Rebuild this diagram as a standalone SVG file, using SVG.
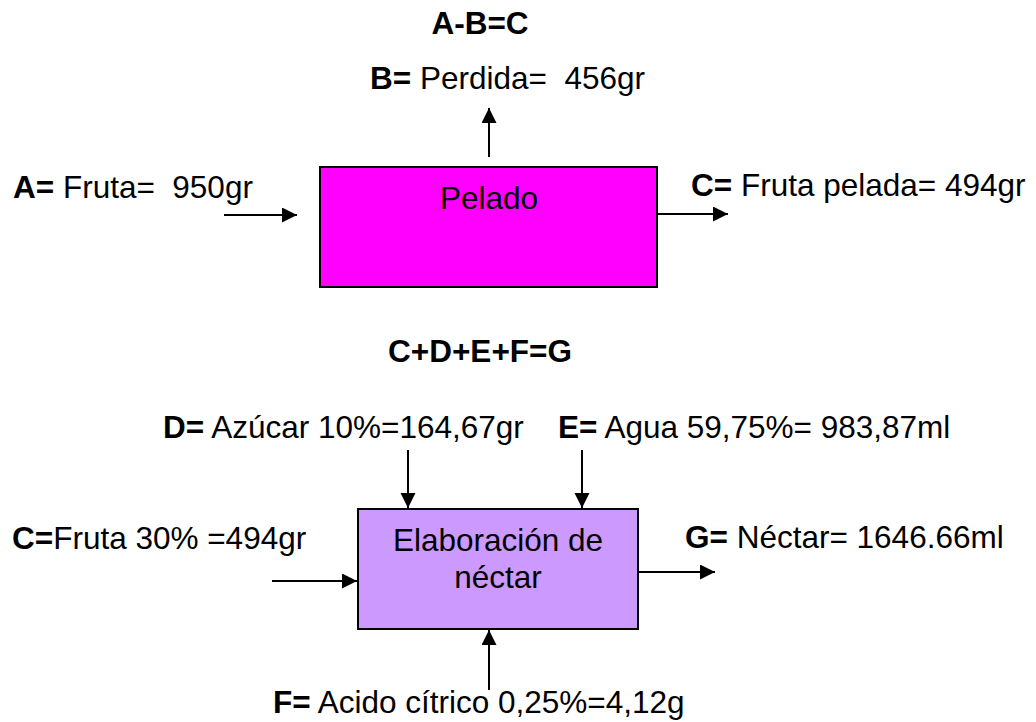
<svg xmlns="http://www.w3.org/2000/svg" width="1036" height="722" viewBox="0 0 1036 722">
<style>
text{font-family:"Liberation Sans",Arial,sans-serif;font-size:31.5px;fill:#000}
.b{font-weight:bold}
.box{stroke:#000;stroke-width:2}
.c{stroke:#000;stroke-width:2;fill:none;marker-end:url(#ah)}
</style>
<defs>
<marker id="ah" markerUnits="userSpaceOnUse" markerWidth="16" markerHeight="16" refX="15" refY="7.5" orient="auto" viewBox="0 0 16 16">
<path d="M0,0 L15,7.5 L0,15 z" fill="#000"/>
</marker>
</defs>
<rect width="1036" height="722" fill="#fff"/>
<g id="connectors">
<line class="c" x1="224" y1="215" x2="297" y2="215"/>
<line class="c" x1="657" y1="214" x2="728" y2="214"/>
<line class="c" x1="489" y1="157" x2="489" y2="108"/>
<line class="c" x1="408" y1="450" x2="408" y2="508"/>
<line class="c" x1="582" y1="450" x2="582" y2="508"/>
<line class="c" x1="272" y1="581" x2="357" y2="581"/>
<line class="c" x1="638" y1="572" x2="715" y2="572"/>
<line class="c" x1="489" y1="690" x2="489" y2="630"/>
</g>
<g id="pelado">
<rect class="box" x="320" y="167" width="337" height="120" fill="#FF00FF"/>
<text x="489" y="209" text-anchor="middle">Pelado</text>
</g>
<g id="elaboracion">
<rect class="box" x="358" y="509" width="280" height="120" fill="#CC99FF"/>
<text x="498" y="551" text-anchor="middle">Elaboración de</text>
<text x="498" y="588" text-anchor="middle">néctar</text>
</g>
<g id="labels">
<text class="b" x="480" y="34" text-anchor="middle">A-B=C</text>
<text x="370" y="89" xml:space="preserve"><tspan class="b">B=</tspan> Perdida=  456gr</text>
<text x="13" y="198" xml:space="preserve"><tspan class="b">A=</tspan> Fruta=  950gr</text>
<text x="691" y="196" xml:space="preserve"><tspan class="b">C=</tspan> Fruta pelada= 494gr</text>
<text class="b" x="480" y="362" text-anchor="middle">C+D+E+F=G</text>
<text x="163" y="438" xml:space="preserve"><tspan class="b">D=</tspan> Azúcar 10%=164,67gr</text>
<text x="558" y="438" xml:space="preserve"><tspan class="b">E=</tspan> Agua 59,75%= 983,87ml</text>
<text x="12" y="549" xml:space="preserve"><tspan class="b">C=</tspan>Fruta 30% =494gr</text>
<text x="685" y="548" xml:space="preserve"><tspan class="b">G=</tspan> Néctar= 1646.66ml</text>
<text x="273" y="713" xml:space="preserve"><tspan class="b">F=</tspan> Acido cítrico 0,25%=4,12g</text>
</g>
</svg>
